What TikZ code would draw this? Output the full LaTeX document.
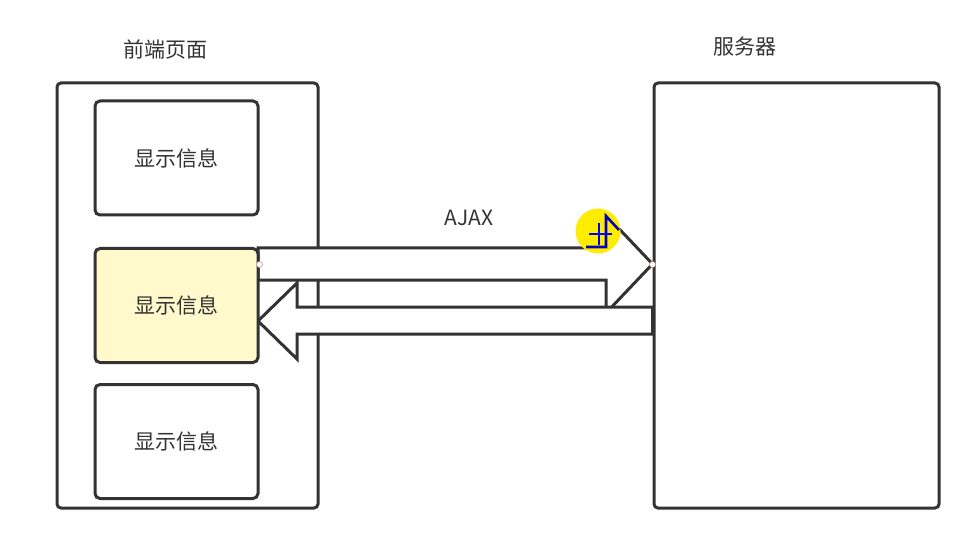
\documentclass[tikz,border=0pt]{standalone}
\usepackage{fontspec}
\newfontfamily\cjk{Noto Sans CJK SC}
\definecolor{ink}{HTML}{333333}
\definecolor{paleyellow}{HTML}{FFF9CC}
\definecolor{dotred}{HTML}{C89090}
\begin{document}
\begin{tikzpicture}[x=1pt,y=-1pt,
    panel/.style={draw=ink,line width=3pt,rounded corners=4pt,minimum width=#1},
    infobox/.style={draw=ink,line width=3pt,rounded corners=5pt,fill=white,
        minimum width=163pt,minimum height=114pt,font=\cjk\fontsize{21}{25}\selectfont,text=ink},
    caption/.style={font=\cjk\fontsize{21}{25}\selectfont,text=ink},
    blockarrow/.style={draw=ink,line width=3pt,fill=white,line join=miter},
    linkdot/.style={circle,draw=dotred,fill=white,line width=0.6pt,inner sep=0pt,minimum size=6pt}]
    \useasboundingbox (0,0) rectangle (971,553);

    % Page and server panels
    \node[panel=261pt,minimum height=425pt] (page) at (187.5,295.5) {};
    \node[panel=285pt,minimum height=425pt] (server) at (796.5,295.5) {};
    \node[caption] (pagelabel) at (165,50) {前端页面};
    \node[caption] (serverlabel) at (745,47) {服务器};

    % Request arrow (page -> server)
    \draw[blockarrow] (258,248) -- (606,248) -- (606,215) -- (server.west |- 0,264)
        -- (606,313) -- (606,280) -- (258,280) -- cycle;
    \node[caption] (ajax) at (469,218) {AJAX};

    % Response arrow (server -> page)
    \draw[blockarrow] (server.west |- 0,307) -- (297,307) -- (297,283) -- (258,321)
        -- (297,359) -- (297,334) -- (server.west |- 0,334) -- cycle;

    % Info boxes
    \node[infobox] (info1) at (176.5,158) {显示信息};
    \node[infobox,fill=paleyellow] (info2) at (176.5,305.5) {显示信息};
    \node[infobox] (info3) at (176.5,441.5) {显示信息};

    % Connection points
    \node[linkdot] (start) at (info2.east |- 0,264.5) {};
    \node[linkdot] (end) at (server.west |- 0,264.5) {};

    % Cursor highlight
    \fill[yellow!95!orange] (598,231) circle (22.5);
    \draw[blue!75!black,line width=2.6pt] (586,247) -- (606,247) -- (606,216) -- (619,230);
    \draw[blue,line width=1.2pt] (589,234) -- (612,234);
    \draw[blue,line width=1.2pt] (599,223) -- (599,245);
\end{tikzpicture}
\end{document}
